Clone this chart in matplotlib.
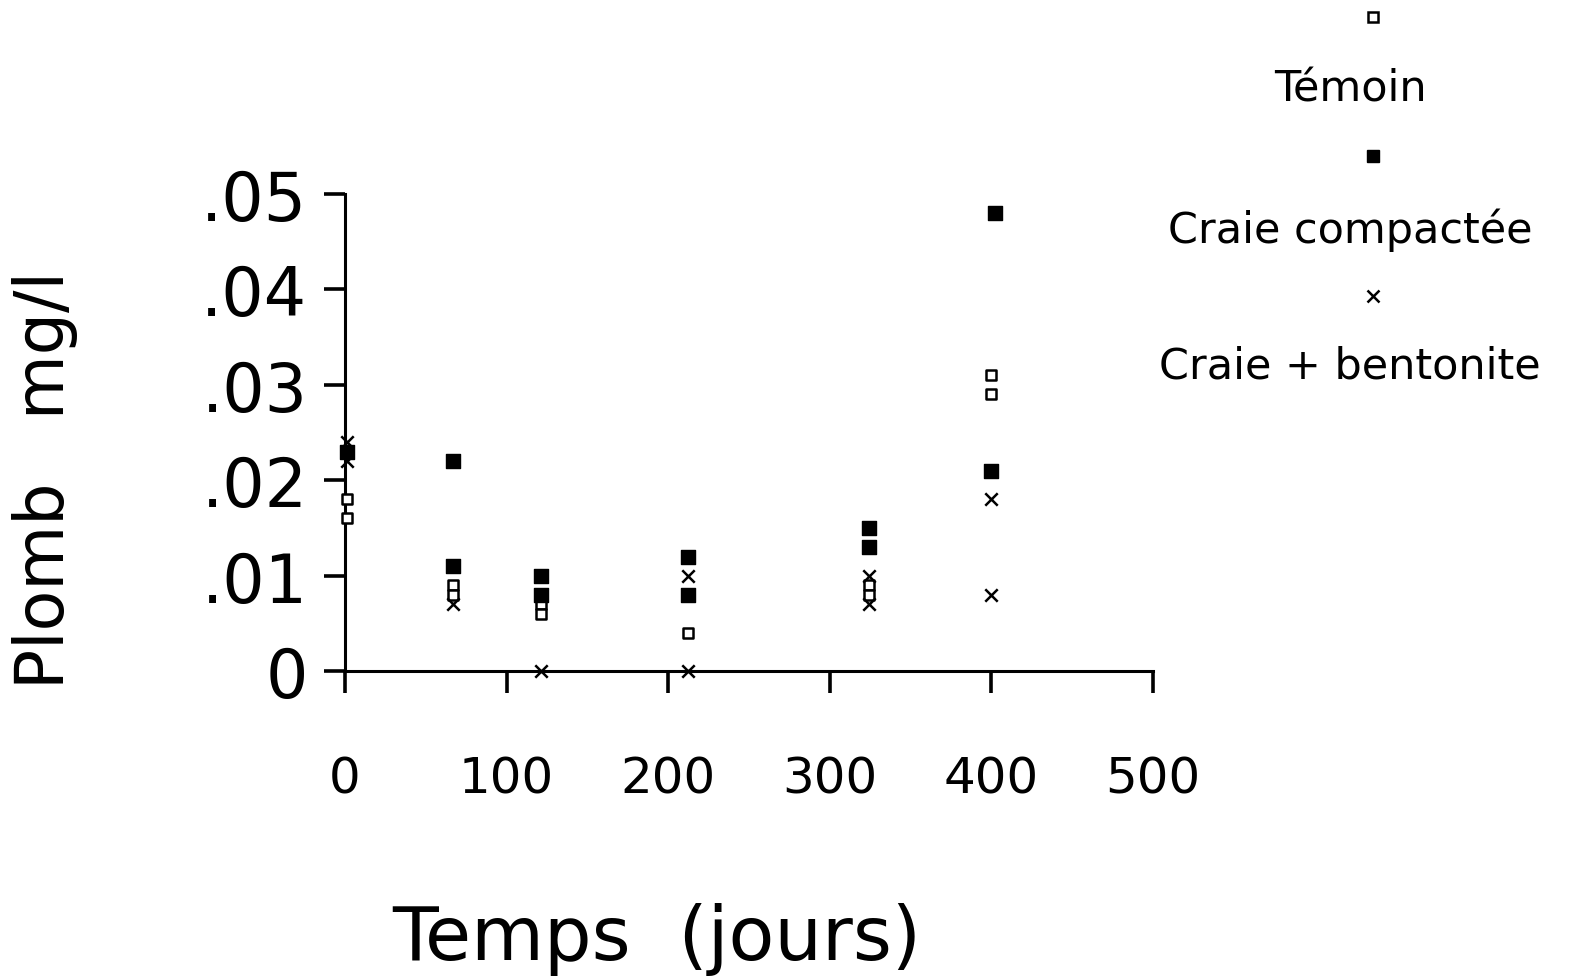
import matplotlib
matplotlib.use("Agg")
import matplotlib.pyplot as plt
from matplotlib.lines import Line2D

# jours de prelevement, plomb (mg/l) par traitement
temoin_x = [1, 1, 67, 67, 121, 121, 212, 324, 324, 400, 400]
temoin_y = [0.018, 0.016, 0.009, 0.008, 0.007, 0.006, 0.004, 0.009, 0.008, 0.031, 0.029]

compact_x = [1, 67, 67, 121, 121, 212, 212, 324, 324, 402, 400]
compact_y = [0.023, 0.022, 0.011, 0.010, 0.008, 0.012, 0.008, 0.015, 0.013, 0.048, 0.021]

bento_x = [1, 1, 67, 121, 212, 212, 324, 324, 400, 400]
bento_y = [0.024, 0.022, 0.007, 0.0, 0.010, 0.0, 0.010, 0.007, 0.018, 0.008]

x_ticks = [0, 100, 200, 300, 400, 500]
y_ticks = [0, 0.01, 0.02, 0.03, 0.04, 0.05]
y_ticklabels = ["0", ".01", ".02", ".03", ".04", ".05"]
legend_labels = ["Témoin", "Craie compactée", "Craie + bentonite"]

W, H = 1569, 978
fig = plt.figure(figsize=(15.69, 9.78), dpi=100)
ax = fig.add_axes([345 / W, 1 - 672 / H, 808 / W, 477 / H])

ax.scatter(temoin_x, temoin_y, marker="s", s=50, facecolors="white",
           edgecolors="black", linewidths=1.8, clip_on=False, zorder=3)
ax.scatter(compact_x, compact_y, marker="s", s=100, color="black",
           clip_on=False, zorder=3)
ax.scatter(bento_x, bento_y, marker="x", s=80, color="black",
           linewidths=1.8, clip_on=False, zorder=3)

ax.set_xlim(0, 500)
ax.set_ylim(0, 0.05)
for side in ["top", "right"]:
    ax.spines[side].set_visible(False)
for side in ["left", "bottom"]:
    ax.spines[side].set_linewidth(2.2)

ax.set_xticks(x_ticks)
ax.set_xticklabels([str(v) for v in x_ticks], fontsize=36)
ax.set_yticks(y_ticks)
ax.set_yticklabels(y_ticklabels, fontsize=48)
ax.tick_params(axis="x", direction="out", length=16, width=2.6, pad=44)
ax.tick_params(axis="y", direction="out", length=15, width=2.6, pad=12)

fig.text(657 / W, 1 - 940 / H, "Temps  (jours)", fontsize=54,
         ha="center", va="center")
fig.text(45 / W, 1 - 480 / H, "Plomb   mg/l", fontsize=48, rotation=90,
         ha="center", va="center")

# legende empilee a droite : symbole au-dessus du libelle
leg_x = 1373 / W
fig.add_artist(Line2D([leg_x], [1 - 18 / H], marker="s", markersize=7,
                      markerfacecolor="white", markeredgecolor="black",
                      markeredgewidth=1.8, linestyle="none",
                      transform=fig.transFigure))
fig.add_artist(Line2D([leg_x], [1 - 157 / H], marker="s", markersize=9,
                      color="black", linestyle="none",
                      transform=fig.transFigure))
fig.add_artist(Line2D([leg_x], [1 - 297 / H], marker="x", markersize=9,
                      color="black", markeredgewidth=1.8, linestyle="none",
                      transform=fig.transFigure))
for lab, yy in zip(legend_labels, [90, 230, 367]):
    fig.text(1350 / W, 1 - yy / H, lab, ha="center", va="center", fontsize=31)

fig.savefig("out.png", dpi=100)
